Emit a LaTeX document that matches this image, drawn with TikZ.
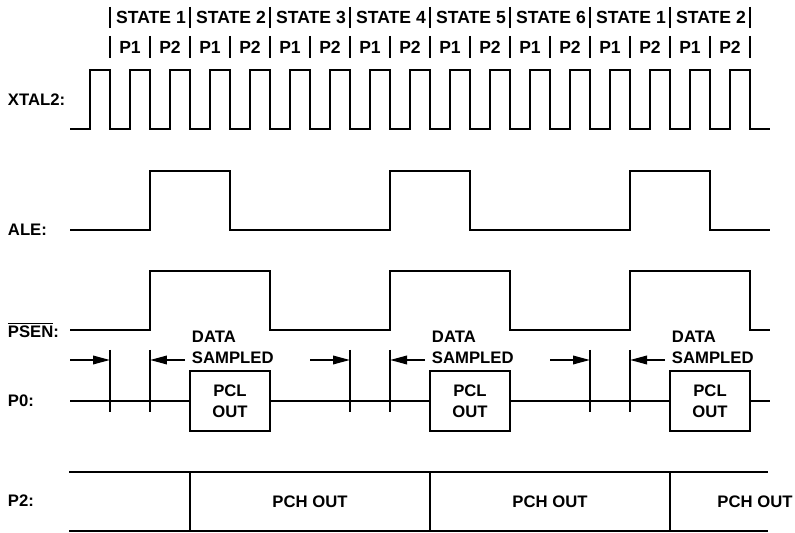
\documentclass[tikz,border=0pt]{standalone}
\usepackage{fontspec}
\setmainfont{Liberation Sans}
\usetikzlibrary{arrows.meta}

\begin{document}
\begin{tikzpicture}[x=0.02cm, y=-0.02cm, line width=1.1pt,
    every node/.style={font=\bfseries\fontsize{9.5}{12}\selectfont, inner sep=0pt},
    signame/.style={anchor=west},
    hdrtext/.style={font=\bfseries\fontsize{10}{12}\selectfont},
    hdrbar/.style={line width=0.6pt},
    pclbox/.style={draw, fill=white, align=center, minimum width=1.6cm, minimum height=1.2cm},
    smparrow/.style={-{Triangle[length=3.4mm,width=1.7mm]}}]
    \path[use as bounding box] (0,0) rectangle (795,533);

    % signal names
    \node[signame] (xtal) at (7,100) {XTAL2:};
    \node[signame] (ale)  at (7,230) {ALE:};
    \node[signame] (psen) at (7,330) {$\overline{\mbox{PSEN}}$:};
    \node[signame] (pzero) at (7,401) {P0:};
    \node[signame] (ptwo) at (7,501) {P2:};

    % state and phase header
    \foreach \s [count=\i from 0] in {1,2,3,4,5,6,1,2} {
        \node[hdrtext] (st\i) at (151+80*\i,17) {STATE \s};
        \node[hdrtext] (pa\i) at (130+80*\i,47) {P1};
        \node[hdrtext] (pb\i) at (170+80*\i,47) {P2};
        \draw[hdrbar] (110+80*\i,7) -- (110+80*\i,28)
            (110+80*\i,36) -- (110+80*\i,58) (150+80*\i,36) -- (150+80*\i,58);
    }
    \draw[hdrbar] (750,7) -- (750,28) (750,36) -- (750,58);

    % XTAL2 clock
    \draw (70,129) \foreach \k in {0,...,16} {
        -- (90+40*\k,129) -- (90+40*\k,70) -- (110+40*\k,70) -- (110+40*\k,129)} -- (770,129);

    % ALE and PSEN
    \draw (70,230) \foreach \k in {0,1,2} {
        -- (150+240*\k,230) -- (150+240*\k,171) -- (230+240*\k,171) -- (230+240*\k,230)} -- (770,230);
    \draw (70,330) \foreach \k in {0,1,2} {
        -- (150+240*\k,330) -- (150+240*\k,271) -- (270+240*\k,271) -- (270+240*\k,330)} -- (770,330);

    % P0 bus
    \foreach \k in {0,1,2}
        \node[pclbox] (pcl\k) at (230+240*\k,401) {PCL\\OUT};
    \coordinate (pzs) at (70,401);
    \coordinate (pze) at (770,401);
    \draw (pzs) -- (pcl0) -- (pcl1) -- (pcl2) -- (pze);

    % data sampled marks
    \foreach \k in {0,1,2} {
        \coordinate (ra\k) at (70+240*\k,360);
        \coordinate (rt\k) at (110+240*\k,360);
        \coordinate (la\k) at (185+240*\k,360);
        \coordinate (lt\k) at (150+240*\k,360);
        \draw (110+240*\k,350) -- (110+240*\k,412) (150+240*\k,350) -- (150+240*\k,412);
        \draw[smparrow] (ra\k) -- (rt\k);
        \draw[smparrow] (la\k) -- (lt\k);
        \node[anchor=west, align=left] (ds\k) at (191+240*\k,347) {DATA\\SAMPLED};
    }

    % P2 bus
    \draw (69,472) -- (768,472) (69,531) -- (768,531);
    \foreach \k in {0,1,2}
        \draw (190+240*\k,472) -- (190+240*\k,531);
    \foreach \x [count=\i] in {310,550,755}
        \node (pch\i) at (\x,502) {PCH OUT};
\end{tikzpicture}
\end{document}
